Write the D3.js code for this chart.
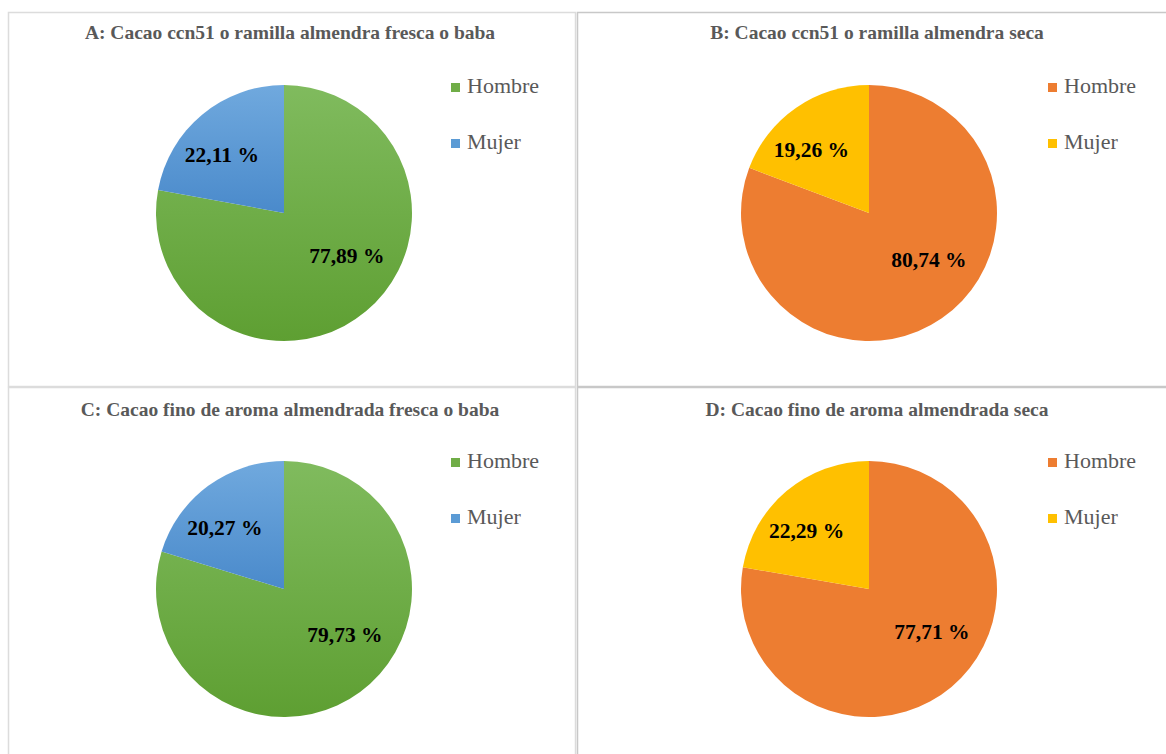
<!DOCTYPE html>
<html><head><meta charset="utf-8">
<script src="https://cdn.jsdelivr.net/npm/d3@7"></script>
<style>
html,body{margin:0;padding:0;background:#fff;}
svg{display:block;}
</style></head>
<body>
<svg id="chart" width="1166" height="754"></svg>
<script>
// ---- data ----
const titles = [
  "A: Cacao ccn51 o ramilla almendra fresca o baba",
  "B: Cacao ccn51 o ramilla almendra seca",
  "C: Cacao fino de aroma almendrada fresca o baba",
  "D: Cacao fino de aroma almendrada seca"
];
const categories = ["Hombre", "Mujer"];
const hombreValues = [77.89, 80.74, 79.73, 77.71];
const mujerValues  = [22.11, 19.26, 20.27, 22.29];
const labelTexts = [
  ["77,89 %", "22,11 %"],
  ["80,74 %", "19,26 %"],
  ["79,73 %", "20,27 %"],
  ["77,71 %", "22,29 %"]
];
const colorSets = [
  ["green", "blue"],
  ["orange", "yellow"],
  ["green", "blue"],
  ["orange", "yellow"]
];

// ---- styling ----
const SERIF = '"Liberation Serif", "Times New Roman", Tinos, serif';
const fills = {
  green:  {top: "#80bb5e", bottom: "#5e9f32"},
  blue:   {top: "#70a9de", bottom: "#4a8acb"},
  orange: {top: "#ed7d31", bottom: "#ed7d31"},
  yellow: {top: "#ffc000", bottom: "#ffc000"}
};
const swatch = {green: "#70ad47", blue: "#5b9bd5", orange: "#ed7d31", yellow: "#ffc000"};

const svg = d3.select("#chart");
const defs = svg.append("defs");
Object.keys(fills).forEach(k => {
  const g = defs.append("linearGradient").attr("id", "grad-" + k)
    .attr("x1", 0).attr("y1", 0).attr("x2", 0).attr("y2", 1);
  g.append("stop").attr("offset", "0%").attr("stop-color", fills[k].top);
  g.append("stop").attr("offset", "100%").attr("stop-color", fills[k].bottom);
});

const colX = [8, 577];
const colW = [567, 600];
const rowY = [12, 387];
const rowH = [374, 380];
const R = 128;

const pie = d3.pie().sort(null).value(d => d.value);
const arc = d3.arc().innerRadius(0).outerRadius(R);

titles.forEach((title, i) => {
  const col = i % 2, row = Math.floor(i / 2);
  const x0 = colX[col], y0 = rowY[row];
  const g = svg.append("g").attr("transform", `translate(${x0},${y0})`);

  // panel border
  g.append("rect").attr("x", 0.5).attr("y", 0.5)
    .attr("width", colW[col]).attr("height", rowH[row])
    .attr("fill", "none").attr("stroke", col === 1 ? "#c8c8c8" : "#dcdcdc").attr("stroke-width", 1.5);

  // title
  g.append("text")
    .attr("x", col === 0 ? 282 : 300)
    .attr("y", row === 0 ? 27 : 29)
    .attr("text-anchor", "middle")
    .style("font-family", SERIF)
    .style("font-weight", "bold")
    .style("font-size", "19.5px")
    .attr("fill", "#595959")
    .text(title);

  const data = categories.map((c, j) => ({
    cat: c,
    value: j === 0 ? hombreValues[i] : mujerValues[i],
    color: colorSets[i][j],
    label: labelTexts[i][j]
  }));

  const cx = col === 0 ? 276 : 292;
  const cy = row === 0 ? 201 : 202;
  const pg = g.append("g").attr("transform", `translate(${cx},${cy})`);
  const arcs = pie(data);

  pg.selectAll("path").data(arcs).join("path")
    .attr("d", arc)
    .attr("fill", d => `url(#grad-${d.data.color})`)
    .attr("stroke", "none");

  // label placement (Excel-like best fit: pulled toward horizontal)
  pg.selectAll("text.lbl").data(arcs).join("text")
    .attr("class", "lbl")
    .attr("transform", d => {
      const mid = (d.startAngle + d.endAngle) / 2;
      const horiz = mid < Math.PI ? Math.PI / 2 : 3 * Math.PI / 2;
      const a = horiz + (d.index === 0 ? 0.7 : 0.85) * (mid - horiz);
      const rr = R * (d.index === 0 ? 0.6 : 0.66);
      return `translate(${rr * Math.sin(a)},${-rr * Math.cos(a)})`;
    })
    .attr("text-anchor", "middle")
    .attr("dy", "0.28em")
    .style("font-family", SERIF)
    .style("font-weight", "bold")
    .style("font-size", "21.5px")
    .attr("fill", "#000")
    .text(d => d.data.label);

  // legend
  const lx = col === 0 ? 443 : 471;
  const ly = row === 0 ? 71 : 71;
  const lg = g.append("g").attr("transform", `translate(${lx},${ly})`);
  const items = lg.selectAll("g").data(data).join("g")
    .attr("transform", (d, j) => `translate(0,${j * 56})`);
  items.append("rect").attr("x", 0).attr("y", 0).attr("width", 9).attr("height", 9)
    .attr("fill", d => swatch[d.color]);
  items.append("text").attr("x", 16).attr("y", 10)
    .style("font-family", SERIF)
    .style("font-size", "22px")
    .attr("fill", "#595959")
    .text(d => d.cat);
});
</script>
</body></html>
